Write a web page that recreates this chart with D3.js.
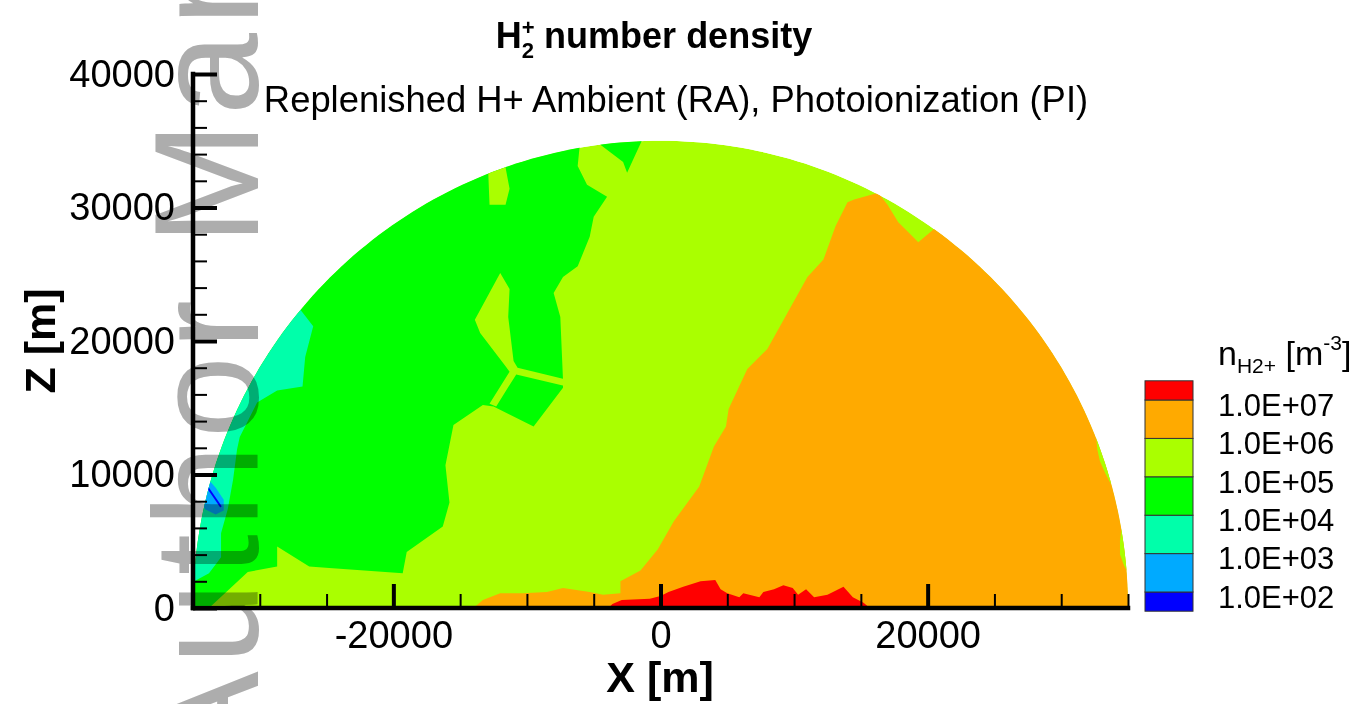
<!DOCTYPE html>
<html><head><meta charset="utf-8">
<script src="https://cdn.jsdelivr.net/npm/d3@7"></script>
<style>
html,body{margin:0;padding:0;background:#fff;}
svg{display:block;font-family:"Liberation Sans",Arial,Helvetica,sans-serif;}
</style></head><body>
<svg id="chart" width="1360" height="704"></svg>
<script>
// ---------------- data (metres) ----------------
const R = 35000;                       // radius of the half-disk domain
const xDomain = [-35000, 35000];
const zDomain = [0, 40000];
const xTicksMajor = [-20000, 0, 20000];
const xTicksMinor = [-30000, -25000, -15000, -10000, -5000, 5000, 10000, 15000, 25000, 30000, 35000];
const zTicksMajor = [0, 10000, 20000, 30000, 40000];
const zTicksMinor = [2000, 4000, 6000, 8000, 12000, 14000, 16000, 18000, 22000, 24000, 26000, 28000, 32000, 34000, 36000, 38000];

// contour levels (log10 of n) and legend
const legendLevels = [2, 3, 4, 5, 6, 7];
const legendLabels = ["1.0E+02", "1.0E+03", "1.0E+04", "1.0E+05", "1.0E+06", "1.0E+07"];
const bandEdges = [1.5, 2, 3, 4, 5, 6, 7, 7.5];
const bandColors = ["#0000FF", "#00AAFF", "#00FFAA", "#00FF00", "#AAFF00", "#FFAA00", "#FF0000"];

// filled contour regions, vertices [X, Z]
const greenMain = [[-38300,0],[-33800,0],[-30900,2700],[-28700,3100],[-28700,4600],[-26300,3100],[-24800,3000],[-19300,2600],[-19000,4200],[-16300,6100],[-15800,7900],[-16100,10700],[-15500,13700],[-13300,15200],[-12500,15100],[-9500,13600],[-7300,16500],[-7300,17100],[-7500,21800],[-8000,23600],[-7300,24800],[-6200,25600],[-5300,27800],[-5000,29300],[-4000,30800],[-5500,31700],[-6200,33100],[-6000,35100],[-6400,38100],[-38300,38100]];
const greenTop = [[-4600,36600],[-4500,34700],[-2800,33400],[-2500,32600],[-1400,35000],[-1100,36600]];
const ygIsland = [[-12800,34400],[-11500,34400],[-11600,33000],[-11300,31400],[-11600,30200],[-12800,30200],[-12900,32700]];
const ygWedge = [[-12000,25100],[-11300,23900],[-11400,21800],[-11000,18500],[-10700,18000],[-7000,17100],[-7000,16600],[-10800,17500],[-12300,15100],[-12800,15300],[-11300,17700],[-11600,18100],[-13500,20600],[-13900,21600]];
const aquaEdge = [[-27800,23900],[-27000,22400],[-26000,21100],[-26600,18800],[-26800,16600],[-28700,16300],[-30200,15400],[-31500,12800],[-31700,11900],[-32000,9600],[-32400,7400],[-32900,5600],[-32900,3800],[-33800,2600],[-34900,2000],[-38300,1400],[-38300,23900]];
const lightBlue = [[-33900,9700],[-33300,9000],[-32700,8100],[-32700,7300],[-33300,7000],[-34100,7400],[-34600,8600]];
const blueLine = [[-34000,9050],[-33880,9120],[-32850,7620],[-32960,7530]];
const orangeMain = [[-14000,0],[-13300,600],[-12000,1100],[-10300,1100],[-8500,1200],[-7300,1500],[-5300,1200],[-4300,1000],[-3000,1100],[-3000,2000],[-1500,2800],[-200,4400],[1000,6500],[2900,9100],[4000,12100],[4900,13600],[5100,14900],[6500,17900],[8000,19400],[9500,22100],[11000,24800],[12200,26100],[13100,28600],[14000,30400],[14500,30600],[16300,31100],[17000,30200],[17800,28900],[18500,28200],[19300,27400],[20500,28400],[22500,30600],[40500,30600],[40500,0]];
const ygRight1 = [[32600,13000],[32700,11900],[32900,11000],[33300,10100],[33700,9300],[36000,9300],[36000,13000]];
const ygRight2 = [[34500,5900],[34400,5000],[34400,4000],[34700,3200],[34900,2800],[36000,2800],[36000,5900]];
const redBase = [[-4100,-200],[-3600,300],[-2900,600],[-800,700],[0,900],[600,1200],[1700,1600],[3000,2000],[4100,2100],[4500,1400],[5000,1100],[5900,800],[6200,1100],[7400,800],[7700,1200],[8500,1400],[9200,1700],[9900,1500],[10300,1000],[10900,1400],[11500,800],[12500,1000],[13700,1600],[14400,800],[15200,400],[15900,-200]];

// drawing order and band (index into bandColors)
const regions = [
  {pts: greenMain, band: 3}, {pts: greenTop, band: 3}, {pts: ygIsland, band: 4}, {pts: ygWedge, band: 4},
  {pts: aquaEdge, band: 2}, {pts: lightBlue, band: 1}, {pts: blueLine, band: 0},
  {pts: orangeMain, band: 5}, {pts: ygRight1, band: 4}, {pts: ygRight2, band: 4}, {pts: redBase, band: 6}
];

// ---------------- drawing ----------------
const svg = d3.select("#chart");
const x = d3.scaleLinear().domain(xDomain).range([193, 1128]);
const z = d3.scaleLinear().domain(zDomain).range([608, 74]);

// half-disk outline
const disk = d3.range(0, 181, 1).map(a => [R * Math.cos(a * Math.PI / 180), R * Math.sin(a * Math.PI / 180)]);
const line = d3.line().x(d => x(d[0])).y(d => z(d[1]));
svg.append("defs").append("clipPath").attr("id", "dom").append("path").attr("d", line(disk) + "Z");

const plot = svg.append("g").attr("clip-path", "url(#dom)");
plot.append("path").attr("d", line(disk) + "Z").attr("fill", bandColors[4]);
plot.selectAll("path.reg").data(regions).join("path").attr("class", "reg")
  .attr("d", d => line(d.pts) + "Z").attr("fill", d => bandColors[d.band]);

// axes
function styleAxis(g, w) {
  g.select(".domain").remove();
  g.selectAll(".tick line").attr("stroke", "#000").attr("stroke-width", w);
}
svg.append("g").attr("transform", `translate(0,${z(0)})`)
  .call(d3.axisBottom(x).tickValues(xTicksMinor).tickSize(-14).tickFormat(""))
  .call(g => styleAxis(g, 2));
const gxM = svg.append("g").attr("transform", `translate(0,${z(0)})`)
  .call(d3.axisBottom(x).tickValues(xTicksMajor).tickSize(-24).tickPadding(13).tickFormat(d => String(d)))
  .call(g => styleAxis(g, 4));
gxM.selectAll("text").attr("font-size", 38).attr("fill", "#000").attr("font-family", null);

svg.append("g").attr("transform", `translate(${x(-35000)},0)`)
  .call(d3.axisLeft(z).tickValues(zTicksMinor).tickSize(-14).tickFormat(""))
  .call(g => styleAxis(g, 2));
const gzM = svg.append("g").attr("transform", `translate(${x(-35000)},0)`)
  .call(d3.axisLeft(z).tickValues(zTicksMajor).tickSize(-24).tickPadding(18).tickFormat(d => String(d)))
  .call(g => styleAxis(g, 4));
gzM.selectAll("text").attr("font-size", 38).attr("fill", "#000").attr("font-family", null);

// axis lines
svg.append("line").attr("x1", x(-35000)).attr("x2", x(35000)).attr("y1", z(0)).attr("y2", z(0))
  .attr("stroke", "#000").attr("stroke-width", 4.5).attr("stroke-linecap", "square");
svg.append("line").attr("x1", x(-35000)).attr("x2", x(-35000)).attr("y1", z(0)).attr("y2", z(40000))
  .attr("stroke", "#000").attr("stroke-width", 4.5).attr("stroke-linecap", "square");

// axis titles
svg.append("text").attr("x", 660).attr("y", 692).attr("text-anchor", "middle")
  .attr("font-size", 43).attr("font-weight", "bold").text("X [m]");
svg.append("text").attr("transform", "translate(55,341) rotate(-90)").attr("text-anchor", "middle")
  .attr("font-size", 43).attr("font-weight", "bold").text("Z [m]");

// titles
const t = svg.append("text").attr("x", 654).attr("y", 48).attr("text-anchor", "middle")
  .attr("font-size", 36).attr("font-weight", "bold");
t.append("tspan").text("H");
t.append("tspan").attr("font-size", 22).attr("dy", -13).text("+");
t.append("tspan").attr("font-size", 22).attr("dx", -12.8).attr("dy", 23).text("2");
t.append("tspan").attr("dy", -10).text(" number density");
svg.append("text").attr("x", 676).attr("y", 112).attr("text-anchor", "middle").attr("font-size", 36.4)
  .text("Replenished H+ Ambient (RA), Photoionization (PI)");

// legend
const ly = d3.scaleLinear().domain([2, 7]).range([592, 400]);
const leg = svg.append("g");
leg.selectAll("rect").data(bandColors).join("rect")
  .attr("x", 1145).attr("width", 48)
  .attr("y", (d, i) => ly(bandEdges[i + 1])).attr("height", (d, i) => ly(bandEdges[i]) - ly(bandEdges[i + 1]))
  .attr("fill", d => d).attr("stroke", "#333").attr("stroke-width", 1);
leg.selectAll("text.lab").data(legendLevels).join("text").attr("class", "lab")
  .attr("x", 1218).attr("y", d => ly(d) + 5).attr("dy", "0.35em").attr("font-size", 31)
  .text((d, i) => legendLabels[i]);
const lt = leg.append("text").attr("x", 1218).attr("y", 365).attr("font-size", 34);
lt.append("tspan").text("n");
lt.append("tspan").attr("font-size", 21).attr("dy", 8).text("H2+");
lt.append("tspan").attr("dy", -8).text(" [m");
lt.append("tspan").attr("font-size", 21).attr("dy", -15).text("-3");
lt.append("tspan").attr("dy", 15).text("]");

// watermark
svg.append("text").attr("transform", "translate(258,770) rotate(-90)")
  .attr("font-size", 148).attr("letter-spacing", 6.8).attr("fill", "#ADADAD")
  .style("mix-blend-mode", "multiply").text("Author Manuscript");
</script>
</body></html>
